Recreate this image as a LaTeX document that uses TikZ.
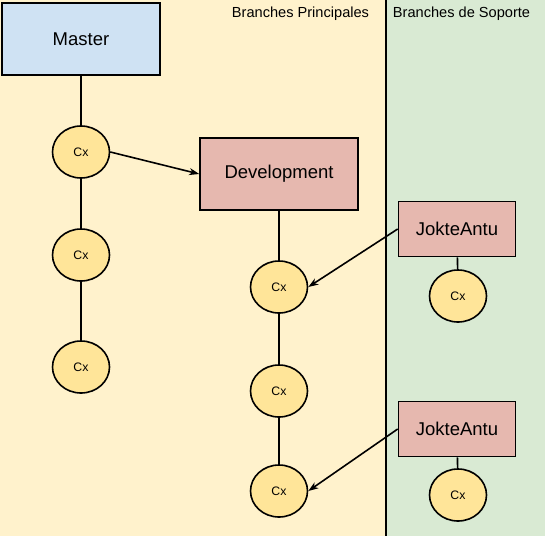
\documentclass[tikz,border=0pt]{standalone}
\usepackage{fontspec}
\setmainfont{Liberation Sans}
\usetikzlibrary{shapes.geometric,arrows.meta}
\definecolor{masterblue}{RGB}{207,226,243}
\definecolor{devred}{RGB}{230,184,175}
\definecolor{commityellow}{RGB}{255,229,153}
\definecolor{mainbg}{RGB}{255,242,204}
\definecolor{supportbg}{RGB}{217,234,211}
\begin{document}
\begin{tikzpicture}[x=1pt, y=-1pt]
			\tikzstyle{branch}  = [rectangle, draw=black, line width=1.6pt, minimum width=158pt, minimum height=72pt, inner sep=0pt, font=\fontsize{18.5}{22}\selectfont]
			\tikzstyle{support} = [branch, fill=devred, minimum width=117pt, minimum height=55pt]
			\tikzstyle{commit}  = [ellipse, draw=black, line width=1.6pt, fill=commityellow, minimum width=57pt, minimum height=52pt, inner sep=0pt, font=\fontsize{12.3}{14}\selectfont]
			\tikzstyle{area}    = [font=\fontsize{14.6}{17}\selectfont, inner sep=0pt]

			\useasboundingbox (0,0) rectangle (545,536);
			\fill[mainbg] (0,0) rectangle (386,536);
			\fill[supportbg] (386,0) rectangle (545,536);
			\draw[line width=1.6pt] (386,0) -- (386,536);

			\node[area] (principal) at (300.5,14) {Branches Principales};
			\node[area] (soporte) at (461.5,14) {Branches de Soporte};

			\node[branch, fill=masterblue] (master) at (81,39) {Master};
			\node[branch, fill=devred] (dev) at (279,174) {Development};
			\node[support] (jokteA) at (457,229) {JokteAntu};
			\node[support] (jokteB) at (457,429) {JokteAntu};

			\foreach \name/\x/\y in {m1/81/152, m2/81/255, m3/81/367, d1/279/287, d2/279/391, d3/279/491, jA/458/296, jB/458/495}
				\node[commit] (\name) at (\x, \y) {Cx};

			\foreach \from/\to in {master/m1, m1/m2, m2/m3, dev/d1, d1/d2, d2/d3, jokteA/jA, jokteB/jB}
				\draw[line width=1.6pt] (\from) -- (\to);

			\foreach \from/\to in {m1.east/dev.west, jokteA.west/d1.east, jokteB.west/d3.east}
				\draw[line width=1.6pt, -{Stealth[length=10pt, width=7pt, inset=3pt]}] (\from) -- (\to);
		\end{tikzpicture}
\end{document}
